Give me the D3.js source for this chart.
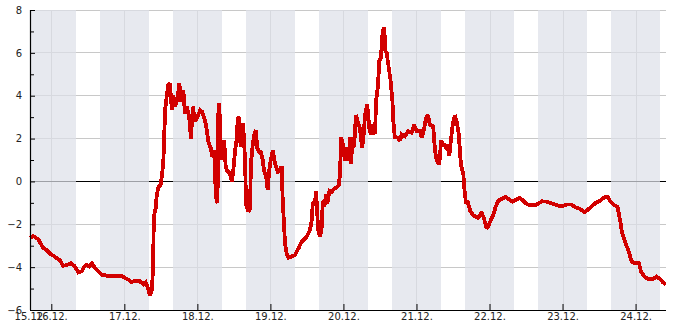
<!DOCTYPE html>
<html><head><meta charset="utf-8">
<script src="https://cdn.jsdelivr.net/npm/d3@7"></script>
<style>
html,body{margin:0;padding:0;background:#fff;}
svg{display:block;font-family:"DejaVu Sans",sans-serif;}
</style></head>
<body><svg id="c" width="685" height="330"></svg>
<script>
// hours since 15.12. 17:00
const hours = [0,1.1,2.7,3.8,4.4,5.5,6.6,7.7,8.8,9.9,10.9,12.1,13.5,14.6,15.3,15.9,17.0,17.8,18.6,19.4,20.3,21.4,22.4,23.6,25.2,26.8,28.5,30.1,31.2,32.3,33.4,34.5,36.1,37.2,38.0,38.7,39.4,40.0,40.4,40.7,41.4,41.6,42.2,42.9,43.3,43.8,44.1,44.4,44.9,45.4,46.0,46.6,47.1,47.6,48.4,49.1,49.6,50.4,50.9,51.5,52.3,52.9,53.5,54.2,55.0,55.9,56.6,57.5,58.1,58.6,59.4,59.9,60.5,61.1,61.6,61.9,62.2,62.8,63.3,63.8,64.3,64.8,65.7,66.3,66.8,67.4,67.9,68.3,68.8,69.2,69.9,70.3,70.7,71.0,71.7,72.3,72.6,73.2,73.7,74.2,74.7,75.3,75.8,76.5,76.9,77.6,78.1,78.6,79.1,79.8,80.3,80.8,81.4,81.9,82.7,83.0,83.5,83.8,84.4,84.9,86.0,87.1,88.2,89.3,90.9,92.0,92.6,92.9,93.7,94.0,94.4,94.7,95.3,95.9,96.2,96.7,97.3,97.7,98.4,99.1,99.9,100.8,101.4,101.9,102.2,102.8,103.5,104.1,104.6,105.2,105.5,106.0,106.5,107.1,107.7,108.4,109.1,109.5,110.1,110.8,111.5,112.0,112.6,113.4,113.7,114.3,114.8,115.3,115.9,116.4,116.8,117.2,117.9,118.5,119.1,119.4,119.9,120.7,121.6,122.1,123.2,124.3,125.4,126.2,127.1,128.2,128.7,129.5,130.1,130.8,131.4,132.5,133.1,133.7,134.5,135.1,135.8,136.7,137.1,137.8,138.3,138.9,139.6,140.2,140.9,141.6,142.4,142.7,143.3,143.8,144.6,145.7,147.3,148.4,149.2,150.1,150.6,151.4,152.2,153.0,153.9,155.0,156.3,157.2,158.5,159.6,161.0,162.1,163.2,164.6,166.5,168.2,169.8,171.4,173.1,174.7,176.4,178.0,179.1,180.7,182.2,183.3,184.6,185.7,187.3,188.7,189.8,190.6,191.7,193.1,193.9,194.6,195.5,196.6,197.7,198.8,200.1,200.8,201.9,203.2,204.6,205.9,207.0,208.1,208.9];
const temps = [-2.63,-2.55,-2.7,-2.97,-3.12,-3.2,-3.38,-3.47,-3.58,-3.69,-3.94,-3.9,-3.82,-3.94,-4.1,-4.25,-4.2,-3.97,-3.9,-3.97,-3.82,-4.05,-4.2,-4.35,-4.4,-4.4,-4.4,-4.4,-4.5,-4.58,-4.7,-4.63,-4.66,-4.8,-4.7,-4.97,-5.3,-5.1,-4.2,-1.65,-1.18,-0.71,-0.25,-0.17,0.22,0.84,2.09,3.33,3.95,4.5,4.57,3.33,4.03,3.5,3.8,4.57,3.72,4.26,3.17,3.49,3.0,2.0,3.49,2.8,3.0,3.33,3.25,2.86,2.4,1.85,1.55,1.16,1.46,-0.71,-1.02,3.17,3.65,1.0,1.62,1.93,0.7,0.5,0.38,-0.02,0.5,1.46,1.93,3.0,2.95,1.62,2.7,2.1,0.84,-1.1,-1.4,-1.3,0.84,1.7,2.2,2.4,1.56,1.38,1.38,1.0,0.5,0.2,-0.4,0.5,1.0,1.46,1.0,0.7,0.45,0.5,0.7,-0.71,-2.1,-2.87,-3.42,-3.57,-3.5,-3.43,-3.13,-2.81,-2.58,-2.27,-1.8,-1.05,-0.9,-0.44,-1.5,-2.27,-2.58,-2.12,-0.9,-1.2,-0.6,-1.05,-0.44,-0.5,-0.35,-0.28,-0.2,0.34,2.05,1.74,0.96,1.59,0.96,2.05,0.8,2.05,1.59,3.1,2.8,2.49,1.59,1.9,3.1,3.6,2.49,2.2,2.64,2.2,3.75,4.38,5.62,5.78,7.03,7.18,6.1,6.0,5.3,4.7,3.75,2.8,2.05,2.05,1.9,2.2,2.1,2.35,2.28,2.64,2.35,2.35,2.05,2.42,2.95,3.1,2.64,2.57,1.43,0.96,0.8,1.9,1.74,1.59,1.74,1.2,1.9,2.64,3.1,2.8,2.2,0.8,0.34,-0.28,-1.05,-0.9,-1.35,-1.59,-1.7,-1.43,-1.74,-2.2,-2.12,-1.8,-1.59,-1.2,-0.9,-0.82,-0.72,-0.82,-0.94,-0.86,-0.77,-0.9,-1.05,-1.12,-1.08,-0.93,-0.94,-1.02,-1.1,-1.17,-1.08,-1.08,-1.2,-1.28,-1.43,-1.32,-1.17,-1.02,-0.9,-0.75,-0.72,-0.9,-1.08,-1.2,-1.8,-2.43,-2.81,-3.2,-3.74,-3.82,-3.82,-4.2,-4.44,-4.56,-4.56,-4.44,-4.56,-4.72,-4.8];
const dayLabels = ["15.12.","16.12.","17.12.","18.12.","19.12.","20.12.","21.12.","22.12.","23.12.","24.12."];
const yMajorTicks = [-6,-4,-2,0,2,4,6,8];
const yMinorTicks = [-5,-3,-1,1,3,5,7];
const spanHours = 209;
const nightFromHour = 16, nightToHour = 8;

const H = 3600e3;
const t0 = Date.UTC(2000,11,15,17);
const toDate = h => new Date(t0 + h*H);

const svg = d3.select("#c");
const L=30, R=666, T=10, B=310;
const x = d3.scaleUtc().domain([toDate(0), toDate(spanHours)]).range([L,R]);
const y = d3.scaleLinear().domain([-6,8]).range([B,T]);

const dayTicks = dayLabels.slice(1).map((d,i)=>new Date(Date.UTC(2000,11,16+i)));

const g = svg.append("g");
g.selectAll("line.hg").data(yMajorTicks.filter(v=>v!==0&&v!==-6)).enter().append("line")
  .attr("x1",L).attr("x2",R).attr("y1",d=>y(d)).attr("y2",d=>y(d))
  .attr("stroke","#c8c8c8").attr("stroke-width",1).attr("shape-rendering","crispEdges");
g.selectAll("line.vg").data(dayTicks).enter().append("line")
  .attr("x1",d=>Math.round(x(d))+0.5).attr("x2",d=>Math.round(x(d))+0.5).attr("y1",T).attr("y2",B)
  .attr("stroke","#c8c8c8").attr("stroke-width",1);
g.append("line").attr("x1",L).attr("x2",R).attr("y1",Math.round(y(0))+0.5).attr("y2",Math.round(y(0))+0.5)
  .attr("stroke","#000").attr("stroke-width",1);

const bands = [];
d3.utcDay.range(new Date(Date.UTC(2000,11,15)), toDate(spanHours)).forEach(d=>{
  const s = new Date(+d + nightFromHour*H), e = new Date(+d + (24+nightToHour)*H);
  const xs = Math.max(L, x(s)), xe = Math.min(R, x(e));
  if (xe > xs) bands.push([xs,xe]);
});
g.selectAll("rect.band").data(bands).enter().append("rect")
  .attr("x",d=>Math.round(d[0])).attr("width",d=>Math.round(d[1])-Math.round(d[0]))
  .attr("y",T).attr("height",B-T)
  .attr("fill","rgb(222,224,232)").attr("fill-opacity",0.714);

const data = hours.map((h,i)=>({t:toDate(h), v:temps[i]}));
svg.append("path").datum(data)
  .attr("d", d3.line().x(d=>x(d.t)).y(d=>y(d.v)))
  .attr("fill","none").attr("stroke","#d20000").attr("stroke-width",3.8)
  .attr("stroke-linejoin","miter").attr("stroke-miterlimit",2)
  .attr("shape-rendering","crispEdges");

const ya = svg.append("g").attr("transform",`translate(${L},0)`)
  .call(d3.axisLeft(y).tickValues(yMajorTicks).tickSize(-5).tickPadding(8).tickFormat(d3.format("d")));
const ym = svg.append("g").attr("transform",`translate(${L},0)`)
  .call(d3.axisLeft(y).tickValues(yMinorTicks).tickSize(-4).tickFormat(""));
ym.select(".domain").remove();
const xa = svg.append("g").attr("transform",`translate(0,${B})`)
  .call(d3.axisBottom(x).tickValues([toDate(0)].concat(dayTicks)).tickSize(-6).tickPadding(3)
    .tickFormat((d,i)=>dayLabels[i]));
xa.selectAll(".tick").filter((d,i)=>i===0).select("line").remove();
[ya,ym,xa].forEach(a=>{
  a.selectAll(".domain").attr("stroke","#000").attr("stroke-width",1.2);
  a.selectAll(".tick line").attr("stroke","#000");
  a.selectAll("text").attr("font-size",10).attr("fill","#222").attr("font-family","DejaVu Sans");
});
xa.select(".domain").attr("d",`M${L},0.5H${R}`);
ya.select(".domain").attr("d",`M0.5,${T}V${B}`);
</script></body></html>
